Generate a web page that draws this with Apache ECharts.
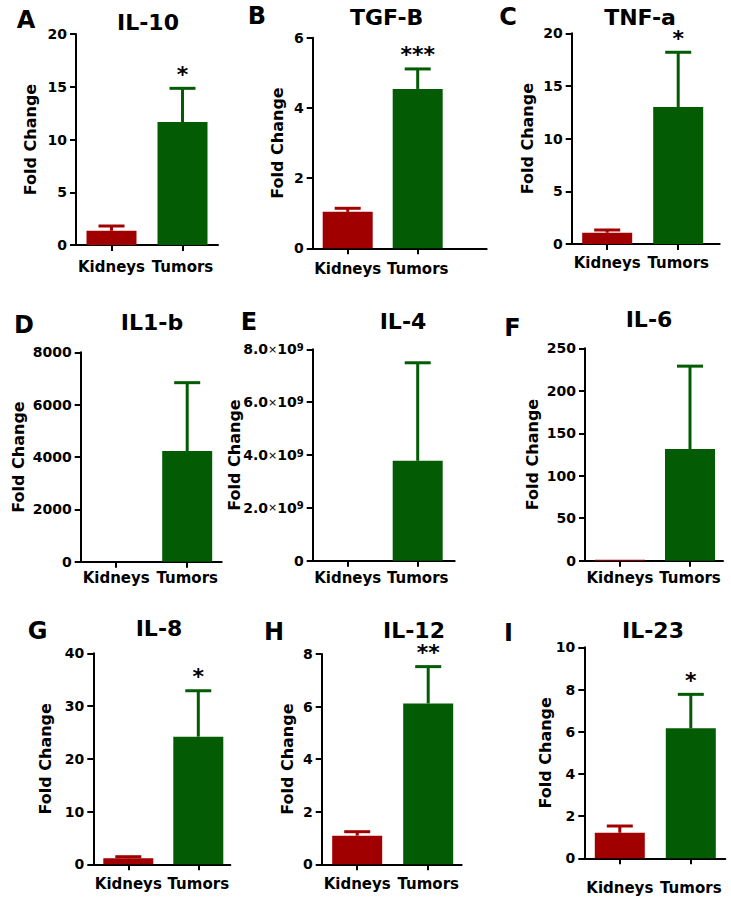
<!DOCTYPE html>
<html>
<head>
<meta charset="utf-8">
<script src="https://cdn.jsdelivr.net/npm/echarts@6/dist/echarts.min.js"></script>
<style>
html,body{margin:0;padding:0;background:#fff;}
#chart{width:731px;height:897px;}
</style>
</head>
<body>
<div id="chart"></div>
<script>
// ---------- data ----------
const categories = ['Kidneys', 'Tumors'];
const panelLetters = ['A', 'B', 'C', 'D', 'E', 'F', 'G', 'H', 'I'];
const panelTitles = ['IL-10', 'TGF-B', 'TNF-a', 'IL1-b', 'IL-4', 'IL-6', 'IL-8', 'IL-12', 'IL-23'];
const yAxisTitle = 'Fold Change';
const kidneyMean = [1.35, 1.04, 1.07, 1, 1, 1.2, 1.14, 1.09, 1.21];
const kidneySem  = [0.45, 0.10, 0.26, 0.4, 0.5, 0.3, 0.30, 0.15, 0.32];
const tumorMean  = [11.65, 4.54, 13.0, 4230, 3.78e9, 131.5, 24.2, 6.12, 6.16];
const tumorSem   = [3.2, 0.57, 5.2, 2610, 3.71e9, 97.5, 8.7, 1.40, 1.61];
const significance = ['*', '***', '*', '', '', '', '*', '**', '*'];
const yMax      = [20, 6, 20, 8000, 8e9, 250, 40, 8, 10];
const yInterval = [5, 2, 5, 2000, 2e9, 50, 10, 2, 2];

// ---------- layout (positions / sizes) ----------
const layout = [
  {left: 76,    top: 34,    h: 211,   w: 142, line: 142, nameGap: 38,   lm: 14, title: [148, 22.5], letter: [26, 20]},
  {left: 312.7, top: 37.7,  h: 210.6, w: 140, line: 174, nameGap: 27.7, lm: 13, title: [386.7, 17], letter: [257, 16]},
  {left: 571.7, top: 33.3,  h: 210.7, w: 142, line: 148, nameGap: 36.7, lm: 11, title: [640, 17.5], letter: [508, 17]},
  {left: 80.7,  top: 352.3, h: 209.4, w: 142, line: 141, nameGap: 54,   lm: 9,  title: [152, 322.5], letter: [24, 325]},
  {left: 312.7, top: 349.3, h: 211.4, w: 140, line: 142, nameGap: 70.5, lm: 10, title: [403, 321], letter: [249, 322]},
  {left: 585,   top: 348.3, h: 212.4, w: 140, line: 138, nameGap: 45,   lm: 10, title: [649, 319], letter: [512.5, 328]},
  {left: 93.3,  top: 653.3, h: 211,   w: 140, line: 137, nameGap: 40,   lm: 12.5, title: [159, 628], letter: [37.5, 631]},
  {left: 321.7, top: 654,   h: 210.3, w: 142, line: 140, nameGap: 26.7, lm: 12.5, title: [414, 630], letter: [274, 631.5]},
  {left: 584.3, top: 647.3, h: 211,   w: 142, line: 141, nameGap: 31,   lm: 22, title: [653, 630], letter: [508.5, 632.5]}
];

const FONT = 'DejaVu Sans';
const barColors = ['#a10000', '#035b03'];
const black = '#000';

const grids = [], xAxes = [], yAxes = [], series = [], graphics = [];

function fmtPlain(v) { return String(v); }
function fmtE(v) {
  if (v === 0) return '0';
  return '{a|' + (v / 1e9).toFixed(1) + '}{x|×}{a|10}{s|9}';
}

for (let i = 0; i < 9; i++) {
  const L = layout[i];
  grids.push({left: L.left, top: L.top, width: L.w, height: L.h});
  xAxes.push({
    type: 'category', gridIndex: i, data: categories,
    axisLine: {show: false},
    axisTick: {show: true, alignWithLabel: true, length: 6, lineStyle: {color: black, width: 2}},
    axisLabel: {margin: L.lm, color: black, fontFamily: FONT, fontWeight: 'bold', fontSize: 15, interval: 0}
  });
  const isE = i === 4;
  yAxes.push({
    type: 'value', gridIndex: i, min: 0, max: yMax[i], interval: yInterval[i],
    name: yAxisTitle, nameLocation: 'middle', nameGap: L.nameGap,
    nameMoveOverlap: false,
    nameTextStyle: {color: black, fontFamily: FONT, fontWeight: 'bold', fontSize: 16},
    axisLine: {show: true, lineStyle: {color: black, width: 2}},
    axisTick: {show: true, length: 6, lineStyle: {color: black, width: 2}},
    splitLine: {show: false},
    axisLabel: {
      margin: 9, color: black, fontFamily: FONT, fontWeight: 'bold', fontSize: 14,
      formatter: isE ? fmtE : fmtPlain,
      rich: isE ? {
        a: {fontFamily: FONT, fontWeight: 'bold', fontSize: 14, color: black},
        x: {fontFamily: FONT, fontWeight: 'normal', fontSize: 11, color: black},
        s: {fontFamily: FONT, fontWeight: 'bold', fontSize: 10, color: black, verticalAlign: 'top'}
      } : undefined
    }
  });
  series.push({
    type: 'bar', xAxisIndex: i, yAxisIndex: i, barWidth: 50, z: 2,
    data: [
      {value: kidneyMean[i], itemStyle: {color: barColors[0]}},
      {value: tumorMean[i], itemStyle: {color: barColors[1]}}
    ],
    animation: false
  });
  const star = significance[i];
  series.push({
    type: 'custom', xAxisIndex: i, yAxisIndex: i, z: 3, animation: false,
    data: [[0, kidneyMean[i], kidneySem[i]], [1, tumorMean[i], tumorSem[i]]],
    renderItem: function (params, api) {
      const c = api.value(0), m = api.value(1), s = api.value(2);
      const p0 = api.coord([c, m]);
      const p1 = api.coord([c, m + s]);
      const col = barColors[c];
      const children = [];
      if (p0[1] - p1[1] >= 1.5) {
        children.push(
          {type: 'line', shape: {x1: p0[0], y1: p0[1], x2: p1[0], y2: p1[1]}, style: {stroke: col, lineWidth: 3}},
          {type: 'line', shape: {x1: p1[0] - 13, y1: p1[1], x2: p1[0] + 13, y2: p1[1]}, style: {stroke: col, lineWidth: 3}}
        );
      }
      if (c === 1 && star) {
        children.push({type: 'text', style: {x: p1[0], y: p1[1] - 14, text: star, fill: black,
          font: 'bold 22px "' + FONT + '"', textAlign: 'center', textVerticalAlign: 'middle'}});
      }
      return {type: 'group', children: children};
    }
  });
  graphics.push({type: 'text', x: L.title[0], y: L.title[1],
    style: {text: panelTitles[i], fill: black, font: 'bold 22px "' + FONT + '"', textAlign: 'center', textVerticalAlign: 'middle'}});
  graphics.push({type: 'text', x: L.letter[0], y: L.letter[1],
    style: {text: panelLetters[i], fill: black, font: 'bold 24px "' + FONT + '"', textAlign: 'center', textVerticalAlign: 'middle'}});
}
// x axis baselines (separate grids so the line length can differ from the category band)
for (let i = 0; i < 9; i++) {
  const L = layout[i];
  const gi = 9 + i;
  grids.push({left: L.left, top: L.top, width: L.line, height: L.h});
  xAxes.push({type: 'value', gridIndex: gi, min: 0, max: 1, position: 'bottom',
    axisLine: {show: true, onZero: false, lineStyle: {color: black, width: 2}},
    axisTick: {show: false}, axisLabel: {show: false}, splitLine: {show: false}});
  yAxes.push({type: 'value', gridIndex: gi, min: 0, max: 1, show: false});
}

const chart = echarts.init(document.getElementById('chart'), null, {renderer: 'svg', width: 731, height: 897});
chart.setOption({
  animation: false,
  backgroundColor: '#fff',
  grid: grids,
  xAxis: xAxes,
  yAxis: yAxes,
  series: series,
  graphic: graphics
});
</script>
</body>
</html>
